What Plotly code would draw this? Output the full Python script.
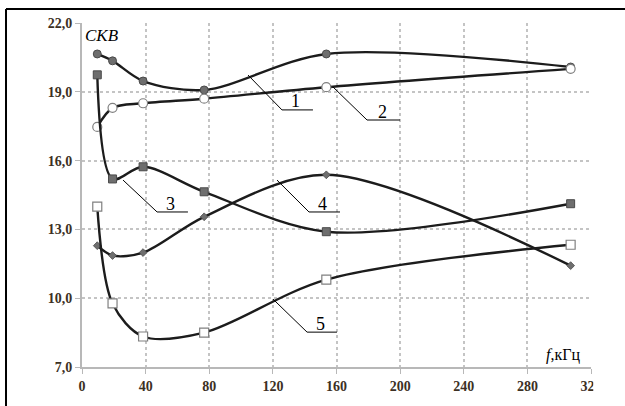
import plotly.graph_objects as go

# Frequencies, kHz (doubling steps)
freq = [9.6, 19.2, 38.4, 76.8, 153.6, 307.2]

# RMS deviation curves 1..5
skv_1 = [20.65, 20.35, 19.47, 19.08, 20.65, 20.08]
skv_2 = [17.47, 18.30, 18.50, 18.70, 19.20, 20.00]
skv_3 = [19.74, 15.20, 15.73, 14.64, 12.90, 14.12]
skv_4 = [12.29, 11.86, 11.99, 13.55, 15.38, 11.42]
skv_5 = [13.99, 9.77, 8.33, 8.50, 10.81, 12.33]

x_ticks = [0, 40, 80, 120, 160, 200, 240, 280, 320]
x_tick_text = ["0", "40", "80", "120", "160", "200", "240", "280", "320"]
y_ticks = [7, 10, 13, 16, 19, 22]
y_tick_text = ["7,0", "10,0", "13,0", "16,0", "19,0", "22,0"]

# Leader lines: (curve point, elbow, end of underline, label position, label)
leaders = [
    ((104.4, 19.73), (125.7, 18.21), (145.2, 18.21), (134.5, 18.58), "1"),
    ((157.8, 19.21), (179.2, 17.77), (199.9, 17.77), (188.9, 18.14), "2"),
    ((25.8, 15.15), (47.2, 13.76), (66.6, 13.76), (55.6, 14.11), "3"),
    ((122.6, 15.15), (142.7, 13.76), (162.2, 13.76), (151.5, 14.11), "4"),
    ((120.1, 9.96), (141.5, 8.52), (160.3, 8.52), (149.9, 8.89), "5"),
]

SERIF = "Liberation Serif, Times New Roman, DejaVu Serif, serif"
LINE = "#1c1c1c"
MARK_FILL = "#6e6e6e"
MARK_EDGE = "#4a4a4a"

series = [
    (skv_1, dict(symbol="circle", size=8, color=MARK_FILL, line=dict(color=MARK_EDGE, width=1))),
    (skv_2, dict(symbol="circle", size=9, color="white", line=dict(color="#808080", width=1.2))),
    (skv_3, dict(symbol="square", size=8, color=MARK_FILL, line=dict(color=MARK_EDGE, width=1))),
    (skv_4, dict(symbol="diamond", size=6, color=MARK_FILL, line=dict(color=MARK_EDGE, width=0.8))),
    (skv_5, dict(symbol="square", size=9, color="white", line=dict(color="#808080", width=1.2))),
]

fig = go.Figure()
for ys, marker in series:
    fig.add_trace(go.Scatter(
        x=freq, y=ys, mode="lines+markers",
        line=dict(color=LINE, width=2.4, shape="spline", smoothing=0.9),
        marker=marker, showlegend=False, hoverinfo="skip",
    ))

shapes = []
annotations = []
for p0, p1, p2, pt, lab in leaders:
    shapes.append(dict(type="line", xref="x", yref="y", x0=p0[0], y0=p0[1], x1=p1[0], y1=p1[1],
                       line=dict(color="black", width=1)))
    shapes.append(dict(type="line", xref="x", yref="y", x0=p1[0], y0=p1[1], x1=p2[0], y1=p2[1],
                       line=dict(color="black", width=1)))
    annotations.append(dict(x=pt[0], y=pt[1], xref="x", yref="y", text=lab, showarrow=False,
                            font=dict(family=SERIF, size=18, color="black"),
                            xanchor="center", yanchor="middle"))

# Outer frame (top and left edges)
shapes.append(dict(type="line", xref="paper", yref="paper", x0=-0.1493, y0=1.0407, x1=1.07, y1=1.0407,
                   line=dict(color="black", width=2)))
shapes.append(dict(type="line", xref="paper", yref="paper", x0=-0.1493, y0=1.0407, x1=-0.1493, y1=-0.13,
                   line=dict(color="black", width=2)))
# Chart area ends just past the last gridline
shapes.append(dict(type="rect", xref="paper", yref="paper", x0=1.0045, y0=-0.005, x1=1.08, y1=-0.13,
                   fillcolor="white", line=dict(width=0), layer="above"))

annotations.append(dict(x=0.0393, y=0.965, xref="paper", yref="paper", text="<i>СКВ</i>",
                        showarrow=False, xanchor="center", yanchor="middle",
                        font=dict(family=SERIF, size=17, color="black")))
annotations.append(dict(x=0.982, y=0.035, xref="paper", yref="paper", text="<i>f</i>,кГц",
                        showarrow=False, xanchor="right", yanchor="middle",
                        font=dict(family=SERIF, size=16, color="black")))

tick_font = dict(family=SERIF, size=14, color="#3c3024", weight="bold")
grid_color = "#c4c4c4"

fig.update_layout(
    width=625, height=406,
    margin=dict(l=82, r=34, t=23, b=39),
    paper_bgcolor="white", plot_bgcolor="white",
    shapes=shapes, annotations=annotations,
    xaxis=dict(range=[0, 320], tickvals=x_ticks, ticktext=x_tick_text,
               showgrid=True, gridcolor=grid_color, griddash="dot", gridwidth=1.5,
               showline=True, linecolor="#b8b8b8", linewidth=2,
               ticks="outside", ticklen=5, tickcolor="#b8b8b8", tickwidth=1,
               tickfont=tick_font, zeroline=False),
    yaxis=dict(range=[7, 22], tickvals=y_ticks, ticktext=y_tick_text,
               showgrid=True, gridcolor=grid_color, griddash="dot", gridwidth=1.5,
               showline=True, linecolor="#b8b8b8", linewidth=2,
               ticks="outside", ticklen=5, tickcolor="#b8b8b8", tickwidth=1,
               tickfont=tick_font, zeroline=False),
)

fig.write_html("out.html")
